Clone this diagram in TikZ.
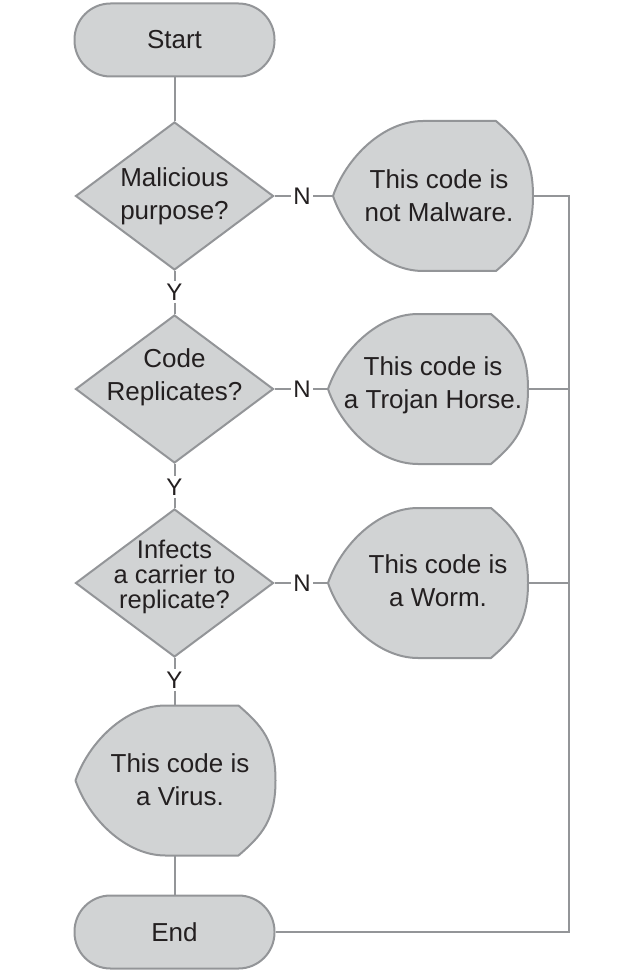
\documentclass[tikz,border=0pt]{standalone}
\usepackage{fontspec}
\setmainfont{Liberation Sans}
\usetikzlibrary{shapes.geometric,calc}
\definecolor{boxfill}{HTML}{D1D3D4}
\definecolor{boxline}{HTML}{939598}
\definecolor{ink}{HTML}{231F20}
\begin{document}
\begin{tikzpicture}[x=1pt,y=-1pt,
  every node/.style={text=ink, font=\fontsize{26}{33}\selectfont},
  term/.style={draw=boxline, fill=boxfill, line width=2pt, rounded corners=36pt, minimum width=200pt, minimum height=73pt, inner sep=0pt},
  decision/.style={diamond, draw=boxline, fill=boxfill, line width=2pt, minimum width=198pt, minimum height=148pt, inner sep=0pt, aspect=1.34},
  dispframe/.style={minimum width=200pt, minimum height=150pt, inner sep=0pt, outer sep=0pt},
  outline/.style={draw=boxline, fill=boxfill, line width=2pt, line join=round},
  txt/.style={align=center, inner sep=0pt},
  lbl/.style={font=\fontsize{24}{24}\selectfont, inner sep=2.5pt},
  conn/.style={draw=boxline, line width=2pt}
]
\path[use as bounding box] (0,0) rectangle (622,973);

% terminals and decisions
\node[term] (start) at (174.5,40) {Start};
\node[decision] (d1) at (174.5,196) {};
\node[txt] (t1) at (174.5,196) {Malicious\\purpose?};
\node[decision] (d2) at (174.5,389) {};
\node[txt] (t2) at (174.5,377) {Code\\Replicates?};
\node[decision] (d3) at (174.5,583) {};
\node[txt, font=\fontsize{25.5}{25}\selectfont] (t3) at (174.5,577) {Infects\\a carrier to\\replicate?};
\node[term] (end) at (174.5,932) {End};

% display frames (invisible boxes carrying the outline)
\node[dispframe] (f1) at (433,196) {};
\node[dispframe] (f2) at (428,389) {};
\node[dispframe] (f3) at (428,583) {};
\node[dispframe] (f4) at (175.5,780.5) {};

\foreach \n in {f1,f2,f3,f4}{
  \path[outline] ($(\n.north)+(-10,0)$) -- ($(\n.north east)+(-37,0)$)
    .. controls ($(\n.north east)+(-14,20)$) and ($(\n.east)+(0,-40)$) .. (\n.east)
    .. controls ($(\n.east)+(0,40)$) and ($(\n.south east)+(-14,-20)$) .. ($(\n.south east)+(-37,0)$)
    -- ($(\n.south)+(-10,0)$)
    .. controls ($(\n.south)+(-50,0)$) and ($(\n.west)+(13,38)$) .. (\n.west)
    .. controls ($(\n.west)+(13,-38)$) and ($(\n.north)+(-50,0)$) .. ($(\n.north)+(-10,0)$)
    -- cycle;
}

\node[txt] (x1) at (439,196) {This code is\\not Malware.};
\node[txt] (x2) at (433,385) {This code is\\a Trojan Horse.};
\node[txt] (x3) at (438,581) {This code is\\a Worm.};
\node[txt] (x4) at (180,780) {This code is\\a Virus.};

% labels
\node[lbl] (y1) at (174.5,292) {Y};
\node[lbl] (y2) at (174.5,487) {Y};
\node[lbl] (y3) at (174.5,680) {Y};
\node[lbl] (n1) at (302,196) {N};
\node[lbl] (n2) at (302,389) {N};
\node[lbl] (n3) at (302,583) {N};

\coordinate (busbot) at (569,932);

% connectors
\draw[conn] (start) -- (d1);
\draw[conn] (d1.south) -- (y1.north);
\draw[conn] (y1.south) -- (d2.north);
\draw[conn] (d2.south) -- (y2.north);
\draw[conn] (y2.south) -- (d3.north);
\draw[conn] (d3.south) -- (y3.north);
\draw[conn] (y3.south) -- (y3.south |- f4.north);
\draw[conn] (y3.south |- f4.south) -- (y3.south |- end.north);
\draw[conn] (d1.east) -- (n1.west);
\draw[conn] (n1.east) -- (f1.west);
\draw[conn] (d2.east) -- (n2.west);
\draw[conn] (n2.east) -- (f2.west);
\draw[conn] (d3.east) -- (n3.west);
\draw[conn] (n3.east) -- (f3.west);
\draw[conn] (f1.east) -| (busbot) -- (end.east);
\draw[conn] (f2.east) -- (f2.east -| busbot);
\draw[conn] (f3.east) -- (f3.east -| busbot);
\end{tikzpicture}
\end{document}
